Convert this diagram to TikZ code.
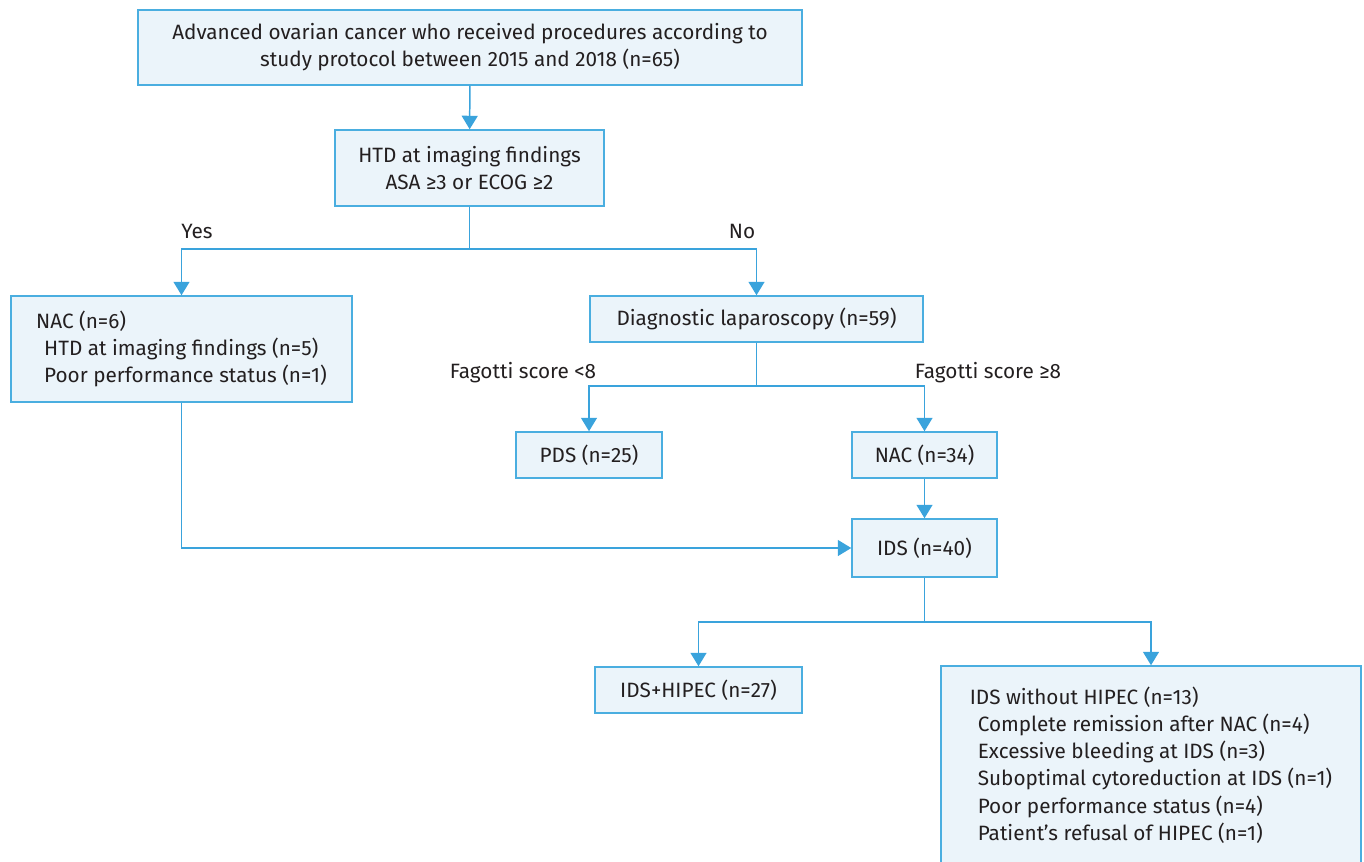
\documentclass[tikz,border=0pt]{standalone}
\usepackage{fontspec}
\setmainfont{Fira Sans}
\usetikzlibrary{arrows.meta}
\definecolor{boxfill}{HTML}{EBF4FA}
\definecolor{boxline}{HTML}{4AAEE0}
\definecolor{flow}{HTML}{3AA3DC}
\definecolor{ink}{HTML}{231F20}
\tikzset{
	box/.style={draw=boxline,fill=boxfill,line width=0.85pt,text=ink,inner sep=0pt,align=center},
	lbox/.style={box,align=left},
	link/.style={draw=flow,line width=0.85pt},
	arr/.style={link,-{Triangle[width=0.32cm,length=0.27cm]}},
	lab/.style={text=ink,inner sep=0pt}
}
\newcommand{\ind}{\hspace*{0.16cm}}
\begin{document}
\begin{tikzpicture}[x=0.02cm,y=-0.02cm,font=\fontsize{11.8}{15.5}\selectfont]
	\useasboundingbox (0,0) rectangle (1364,861);
	\clip (0,0) rectangle (1364,861);
	\node[box,minimum width=13.28cm,minimum height=1.5cm] (start) at (470,47.5) {Advanced ovarian cancer who received procedures according to\\study protocol between 2015 and 2018 (n=65)};
	\node[box,minimum width=5.38cm,minimum height=1.52cm] (htd) at (469.5,168) {HTD at imaging findings\\ASA ≥3 or ECOG ≥2};
	\node[lbox,minimum width=6.82cm,minimum height=2.12cm] (nac6) at (181.5,349) {NAC (n=6)\\\ind HTD at imaging findings (n=5)\\\ind Poor performance status (n=1)};
	\node[box,minimum width=6.66cm,minimum height=0.92cm] (diag) at (756.5,319) {Diagnostic laparoscopy (n=59)};
	\node[box,minimum width=2.92cm,minimum height=0.92cm] (pds) at (589,455) {PDS (n=25)};
	\node[box,minimum width=2.9cm,minimum height=0.92cm] (nac34) at (924.5,455) {NAC (n=34)};
	\node[box,minimum width=2.9cm,minimum height=1.16cm] (ids) at (924.5,548) {IDS (n=40)};
	\node[box,minimum width=4.14cm,minimum height=0.92cm] (hipec) at (698.5,690) {IDS+HIPEC (n=27)};
	\node[lbox,minimum width=8.4cm,minimum height=3.96cm] (nohipec) at (1151,765) {IDS without HIPEC (n=13)\\\ind Complete remission after NAC (n=4)\\\ind Excessive bleeding at IDS (n=3)\\\ind Suboptimal cytoreduction at IDS (n=1)\\\ind Poor performance status (n=4)\\\ind Patient’s refusal of HIPEC (n=1)};
	\node[lab] (yes) at (197,231) {Yes};
	\node[lab] (no) at (742,231) {No};
	\node[lab] (fless) at (523,373) {Fagotti score <8};
	\node[lab] (fmore) at (988,373) {Fagotti score ≥8};
	\coordinate (j1) at (469.5,249);
	\coordinate (j2) at (756.5,386);
	\coordinate (j3) at (924.5,622);
	\draw[arr](start)--(htd);
	\draw[link](htd)--(j1);
	\draw[arr](j1)-|(nac6.north);
	\draw[arr](j1)-|(diag.north);
	\draw[link](diag)--(j2);
	\draw[arr](j2)-|(pds.north);
	\draw[arr](j2)-|(nac34.north);
	\draw[arr](nac34)--(ids);
	\draw[arr](nac6.south)|-(ids.west);
	\draw[link](ids)--(j3);
	\draw[arr](j3)-|(hipec.north);
	\draw[arr](j3)-|(nohipec.north);
\end{tikzpicture}
\end{document}
